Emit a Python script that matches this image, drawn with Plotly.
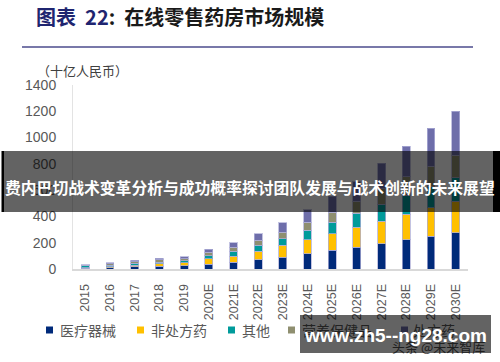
import plotly.graph_objects as go

# ---------------- data ----------------
years = ["2015", "2016", "2017", "2018", "2019", "2020E", "2021E", "2022E",
         "2023E", "2024E", "2025E", "2026E", "2027E", "2028E", "2029E", "2030E"]
med_device = [5, 10, 19, 21, 26, 38, 50, 70, 90, 116, 141, 166, 192, 223, 250, 276]
otc        = [6, 7, 10, 19, 21, 39, 47, 66, 89, 107, 128, 153, 173, 195, 217, 239]
other      = [15, 12, 13, 12, 14, 25, 37, 43, 51, 71, 88, 107, 127, 143, 157, 181]
nutrition  = [4, 10, 13, 18, 17, 26, 32, 38, 51, 63, 75, 90, 118, 140, 158, 170]
rx         = [4, 8, 10, 10, 17, 21, 34, 52, 71, 95, 121, 149, 193, 234, 288, 336]

series_names = ["医疗器械", "非处方药", "其他", "营养保健品", "处方药"]
series_values = [med_device, otc, other, nutrition, rx]
series_colors = ["#002A7A", "#FFC000", "#009B9B", "#8F8F70", "#6E6EAA"]

unit_text = "（十亿人民币）"
banner_text = "费内巴切战术变革分析与成功概率探讨团队发展与战术创新的未来展望"
watermark_text = "www.zh5--ng28.com"
under_text = "头条 @未来智库"

# ---------------- geometry helpers ----------------
W, H = 500, 362
L, R, T, B = 73, 32, 85, 93
PW, PH = W - L - R, H - T - B


def px(x):
    return (x - L) / PW


def py(y):
    return (H - B - y) / PH


fig = go.Figure()
for name, vals, col in zip(series_names, series_values, series_colors):
    fig.add_trace(go.Bar(
        x=years, y=vals, name=name,
        marker=dict(color=col, line=dict(color="rgba(175,175,215,0.75)", width=1)),
        showlegend=False,
    ))

fig.update_layout(
    width=W, height=H,
    margin=dict(l=L, r=R, t=T, b=B, pad=0),
    barmode="stack", bargap=0.68,
    plot_bgcolor="white", paper_bgcolor="white",
    font=dict(family="Liberation Sans, Arial, sans-serif", color="#595959"),
)
fig.update_xaxes(
    type="category", showgrid=False, tickangle=-90,
    showline=True, linecolor="#D9D9D9", linewidth=2,
    ticks="", ticklabelstandoff=8,
    tickfont=dict(size=12.5, color="#595959"),
)
fig.update_yaxes(
    range=[0, 1400], dtick=200, showgrid=False,
    showline=True, linecolor="#E3E3E3", linewidth=1,
    ticks="", ticklabelstandoff=13,
    tickfont=dict(size=14, color="#595959"),
    zeroline=False,
)

shapes = []
# rule under the title
shapes.append(dict(type="line", xref="paper", yref="paper",
                   x0=px(22), x1=px(473), y0=py(47), y1=py(47),
                   line=dict(color="#4B4B8C", width=1.5)))
# legend markers
leg_marker_x = [46, 137, 228, 288, 401]
leg_text_x = [58, 149, 240, 300, 411]
for mx, col in zip(leg_marker_x, series_colors):
    shapes.append(dict(type="rect", xref="paper", yref="paper",
                       x0=px(mx), x1=px(mx + 7), y0=py(326.5), y1=py(333.5),
                       line=dict(width=0), fillcolor=col))
# overlay banner
shapes.append(dict(type="rect", xref="paper", yref="paper", layer="above",
                   x0=px(4), x1=px(493), y0=py(151), y1=py(212),
                   line=dict(width=0), fillcolor="rgba(0,0,0,0.61)"))
shapes.append(dict(type="rect", xref="paper", yref="paper", layer="above",
                   x0=px(1.5), x1=px(4), y0=py(151), y1=py(212),
                   line=dict(width=0), fillcolor="#000000"))
shapes.append(dict(type="rect", xref="paper", yref="paper", layer="above",
                   x0=px(493), x1=px(500), y0=py(151), y1=py(212),
                   line=dict(width=0), fillcolor="#000000"))
fig.update_layout(shapes=shapes)

ann = []
cjk = "Noto Sans CJK SC"
ann.append(dict(xref="paper", yref="paper", x=px(34), y=py(16),
                xanchor="left", yanchor="middle", showarrow=False,
                text="<b><span style='color:#1F2570'>图表  22</span>:  在线零售药房市场规模</b>",
                font=dict(family=cjk, size=20, color="#1A1A1A")))
ann.append(dict(xref="paper", yref="paper", x=px(35), y=py(70),
                xanchor="left", yanchor="middle", showarrow=False,
                text=unit_text, font=dict(family=cjk, size=13, color="#404040")))
for tx, name in zip(leg_text_x, series_names):
    ann.append(dict(xref="paper", yref="paper", x=px(tx), y=py(330),
                    xanchor="left", yanchor="middle", showarrow=False,
                    text=name, font=dict(family=cjk, size=14, color="#595959")))
ann.append(dict(xref="paper", yref="paper", x=px(438), y=py(346),
                xanchor="center", yanchor="middle", showarrow=False,
                text=under_text, font=dict(family=cjk, size=13, color="#505050")))
# banner text
ann.append(dict(xref="paper", yref="paper", x=px(250), y=py(187),
                xanchor="center", yanchor="middle", showarrow=False,
                text="<b>" + banner_text + "</b>",
                font=dict(family=cjk, size=15.8, color="#FFFFFF")))
# watermark box
ann.append(dict(xref="paper", yref="paper", x=px(300), y=py(315),
                xanchor="left", yanchor="top", showarrow=False,
                text=" ", width=191, height=38, borderpad=0, borderwidth=0,
                bgcolor="rgba(0,0,0,0.61)"))
ann.append(dict(xref="paper", yref="paper", x=px(395), y=py(335),
                xanchor="center", yanchor="middle", showarrow=False,
                text="<b>" + watermark_text + "</b>",
                font=dict(family="Liberation Sans, Arial, sans-serif", size=19, color="#FFFFFF")))
fig.update_layout(annotations=ann)

fig.write_html("out.html", config={"displayModeBar": False},
               post_script="document.body.style.margin='0px';")
